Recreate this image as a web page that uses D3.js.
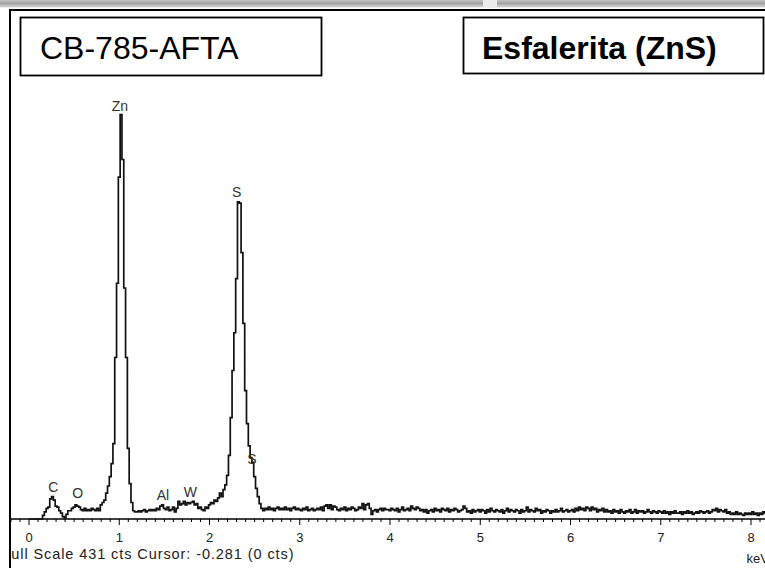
<!DOCTYPE html>
<html>
<head>
<meta charset="utf-8">
<script src="https://cdn.jsdelivr.net/npm/d3@7"></script>
<style>
html, body { margin: 0; padding: 0; background: #fff; }
svg { display: block; font-family: Arial, "Liberation Sans", sans-serif; }
</style>
</head>
<body>
<script>
// EDS spectrum, counts per 0.02 keV channel starting at 0 keV
const sampleName = "CB-785-AFTA";
const mineralName = "Esfalerita (ZnS)";
const footerText = "Full Scale 431 cts Cursor: -0.281  (0 cts)";
const unitLabel = "keV";
const fullScale = 431;
const tickValues = [0, 1, 2, 3, 4, 5, 6, 7, 8];
const startKeV = 0, channelKeV = 0.02;

const counts = [
  0, 0, 0, 0, 0, 0, 0, 0, 3, 6,            // 0.00
  9, 10, 17, 19, 16, 11, 10, 7, 5, 2,      // 0.20
  1, 4, 7, 7, 9, 10, 12, 11, 10, 8,        // 0.40
  7, 9, 7, 8, 7, 9, 8, 7, 9, 7,            // 0.60
  12, 14, 16, 22, 28, 36, 47, 64, 137, 200,// 0.80
  290, 343, 305, 196, 137, 60, 30, 14, 7, 6,// 1.00
  6, 7, 6, 7, 8, 6, 7, 8, 7, 8,            // 1.20
  7, 9, 8, 11, 12, 9, 8, 10, 7, 8,         // 1.40
  10, 6, 9, 15, 12, 13, 15, 12, 14, 13,    // 1.60
  14, 15, 12, 13, 9, 10, 8, 7, 10, 9,      // 1.80
  12, 14, 13, 16, 15, 18, 22, 19, 25, 29,  // 2.00
  37, 54, 86, 126, 158, 204, 269, 268, 226, 166, // 2.20
  109, 81, 62, 52, 48, 36, 26, 19, 13, 9,  // 2.40
  7, 9, 8, 10, 8, 9, 7, 9, 10, 8,          // 2.60
  9, 8, 10, 8, 9, 7, 9, 10, 8, 9,          // 2.80
  8, 7, 9, 8, 10, 7, 8, 9, 7, 8,           // 3.00
  9, 8, 10, 7, 11, 12, 9, 12, 8, 11,       // 3.20
  10, 8, 7, 9, 8, 10, 7, 9, 8, 10,         // 3.40
  9, 7, 8, 10, 9, 13, 8, 12, 13, 9,        // 3.60
  4, 7, 8, 6, 8, 9, 7, 9, 8, 8,            // 3.80
  7, 9, 8, 7, 9, 6, 8, 10, 7, 8,           // 4.00
  9, 7, 11, 9, 8, 10, 9, 7, 8, 6,          // 4.20
  8, 5, 7, 8, 6, 9, 7, 8, 6, 9,            // 4.40
  8, 7, 9, 6, 8, 7, 9, 8, 6, 7,            // 4.60
  8, 11, 9, 6, 7, 5, 8, 6, 7, 8,           // 4.80
  6, 8, 7, 5, 8, 6, 9, 7, 6, 8,            // 5.00
  7, 6, 8, 5, 7, 9, 6, 8, 7, 6,            // 5.20
  8, 7, 5, 8, 6, 7, 10, 6, 8, 7,           // 5.40
  6, 9, 7, 8, 5, 7, 6, 8, 7, 5,            // 5.60
  7, 6, 8, 6, 7, 9, 6, 7, 8, 6,            // 5.80
  7, 8, 6, 9, 7, 10, 8, 9, 7, 10,          // 6.00
  9, 7, 10, 8, 9, 6, 8, 7, 9, 6,           // 6.20
  8, 6, 7, 5, 8, 6, 7, 5, 8, 6,            // 6.40
  5, 7, 6, 8, 5, 6, 8, 5, 7, 6,            // 6.60
  7, 5, 6, 8, 6, 5, 7, 6, 5, 7,            // 6.80
  6, 5, 7, 5, 6, 4, 6, 5, 7, 5,            // 7.00
  5, 6, 4, 6, 5, 7, 5, 6, 4, 5,            // 7.20
  6, 5, 7, 6, 5, 6, 7, 5, 6, 8,            // 7.40
  7, 9, 6, 8, 7, 6, 8, 5, 6, 4,            // 7.60
  5, 4, 6, 4, 5, 4, 3, 5, 4, 5,            // 7.80
  4, 6, 4, 5, 3, 5, 4, 6, 5                // 8.00
];

const peakNames = ["C", "O", "Zn", "Al", "W", "S", "S"];
const peakKeV = [0.269, 0.540, 1.008, 1.485, 1.789, 2.301, 2.471];
const peakLabelCts = [23, 18, 346, 16, 19, 273, 47];

const W = 765, H = 568;
const axisY = 519, plotTop = 11, plotLeft = 11;

const svg = d3.select("body").append("svg")
    .attr("width", W).attr("height", H);

const defs = svg.append("defs");
let grad = defs.append("linearGradient").attr("id", "topbar")
    .attr("x1", 0).attr("x2", 0).attr("y1", 0).attr("y2", 1);
grad.append("stop").attr("offset", "0%").attr("stop-color", "#c4c4c4");
grad.append("stop").attr("offset", "45%").attr("stop-color", "#a2a2a2");
grad.append("stop").attr("offset", "100%").attr("stop-color", "#dcdcdc");

defs.append("clipPath").attr("id", "plotclip")
  .append("rect").attr("x", plotLeft).attr("y", plotTop)
    .attr("width", W - plotLeft).attr("height", H - plotTop);

// window chrome strip at top
svg.append("rect").attr("x", 0).attr("y", 0).attr("width", W).attr("height", 7.5)
    .attr("fill", "url(#topbar)");
svg.append("rect").attr("x", 483).attr("y", 0).attr("width", 14).attr("height", 7.5)
    .attr("fill", "#ececec");

let x = d3.scaleLinear().domain([0, 8]).range([29, 751]);
let y = d3.scaleLinear().domain([0, fullScale]).range([axisY, plotTop]);

let spectrum = counts.map((c, i) => ({ e: startKeV + i * channelKeV, c: c }));

let line = d3.line()
    .x(d => x(d.e))
    .y(d => y(d.c))
    .curve(d3.curveStep);

let g = svg.append("g").attr("clip-path", "url(#plotclip)");

// x axis with 0.1 keV minor ticks
g.append("line")
    .attr("x1", plotLeft).attr("x2", W)
    .attr("y1", axisY).attr("y2", axisY)
    .attr("stroke", "#000").attr("stroke-width", 1.6);

let minor = d3.range(-2, 82).map(d => d / 10);
g.selectAll("line.minor").data(minor).join("line")
    .attr("class", "minor")
    .attr("x1", d => x(d)).attr("x2", d => x(d))
    .attr("y1", axisY).attr("y2", d => axisY + (Math.abs(d - Math.round(d)) < 1e-6 ? 6 : 3))
    .attr("stroke", "#000").attr("stroke-width", 1);

g.append("path")
    .datum(spectrum)
    .attr("d", line)
    .attr("fill", "none")
    .attr("stroke", "#111")
    .attr("stroke-width", 1.7);

g.selectAll("text.tick").data(tickValues).join("text")
    .attr("class", "tick")
    .attr("x", d => x(d)).attr("y", 541.5)
    .attr("text-anchor", "middle")
    .attr("font-size", 13).attr("fill", "#222")
    .text(d => d);

g.selectAll("text.peak").data(peakNames).join("text")
    .attr("class", "peak")
    .attr("x", (d, i) => x(peakKeV[i]))
    .attr("y", (d, i) => y(peakLabelCts[i]))
    .attr("text-anchor", "middle")
    .attr("font-size", 14).attr("fill", "#333")
    .text(d => d);

g.append("text")
    .attr("x", 1.5).attr("y", 558.5)
    .attr("font-size", 14.5).attr("fill", "#222")
    .attr("textLength", 292).attr("lengthAdjust", "spacing")
    .text(footerText);

svg.append("text")
    .attr("x", 746.5).attr("y", 563)
    .attr("font-size", 13).attr("fill", "#222")
    .text(unitLabel);

// frame lines
svg.append("line").attr("x1", 9).attr("x2", W).attr("y1", 10).attr("y2", 10)
    .attr("stroke", "#000").attr("stroke-width", 2);
svg.append("line").attr("x1", 10).attr("x2", 10).attr("y1", 9).attr("y2", H)
    .attr("stroke", "#000").attr("stroke-width", 2);

// title boxes
svg.append("rect").attr("x", 20.5).attr("y", 17.5).attr("width", 301).attr("height", 58)
    .attr("fill", "#fff").attr("stroke", "#000").attr("stroke-width", 1.8);
svg.append("text").attr("x", 40).attr("y", 58.5)
    .attr("font-size", 32).attr("fill", "#000")
    .text(sampleName);

svg.append("rect").attr("x", 463.5).attr("y", 17.5).attr("width", 300).attr("height", 56)
    .attr("fill", "#fff").attr("stroke", "#000").attr("stroke-width", 1.8);
svg.append("text").attr("x", 482).attr("y", 58.5)
    .attr("font-size", 32).attr("font-weight", "bold").attr("fill", "#000")
    .text(mineralName);
</script>
</body>
</html>
